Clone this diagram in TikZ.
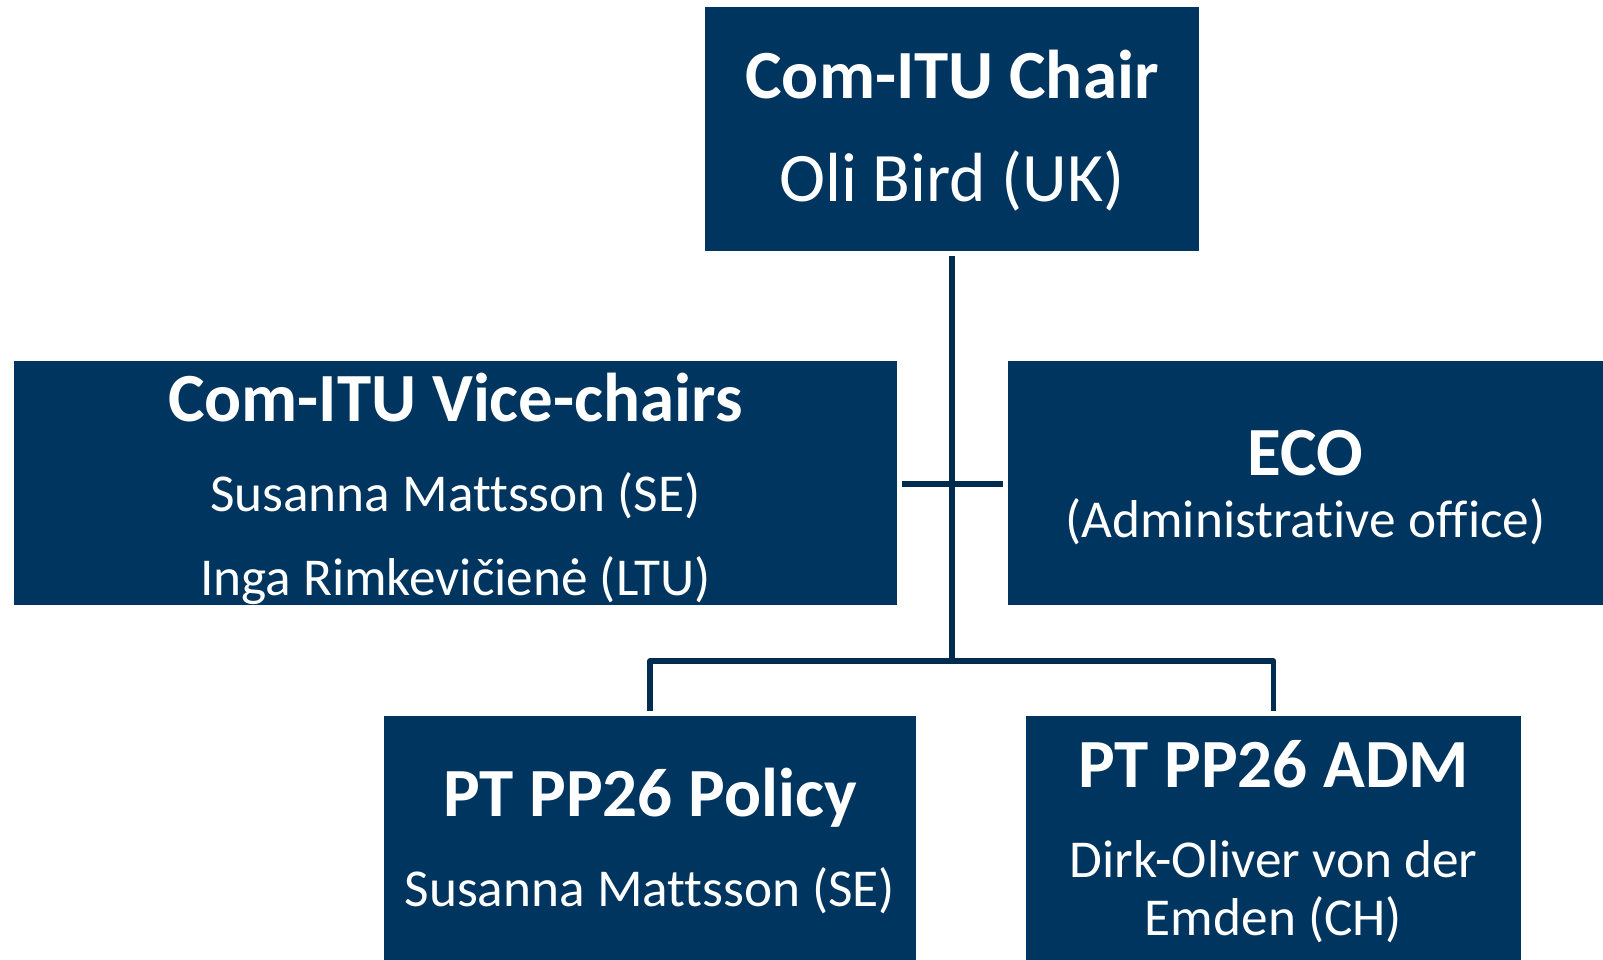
\documentclass[tikz,border=0pt]{standalone}
\usepackage{fontspec}
\setmainfont{Carlito}[Ligatures={NoCommon}]
\definecolor{navy}{RGB}{0,53,95}
\definecolor{linenavy}{RGB}{0,44,80}
\begin{document}
\begin{tikzpicture}[x=1pt,y=-1pt,
  box/.style={rectangle,fill=navy,draw=none,inner sep=0pt,outer sep=0pt},
  ttl/.style={anchor=base,inner sep=0pt,text=white,font=\fontsize{69}{80}\selectfont\bfseries},
  nm/.style={anchor=base,inner sep=0pt,text=white,font=\fontsize{53.3}{64}\selectfont},
  nmbig/.style={anchor=base,inner sep=0pt,text=white,font=\fontsize{69.5}{80}\selectfont},
  conn/.style={draw=linenavy,line width=5.5pt,line join=round,line cap=butt}]
\clip (0,0) rectangle (1603,960);
\fill[white] (0,0) rectangle (1603,960);
% boxes
\node[box,minimum width=494pt,minimum height=244pt] (top) at (952,129) {};
\node[box,minimum width=883pt,minimum height=244pt] (vice) at (455.5,483) {};
\node[box,minimum width=595pt,minimum height=244pt] (eco) at (1305.5,483) {};
\node[box,minimum width=532pt,minimum height=264pt] (policy) at (650,848) {};
\node[box,minimum width=495pt,minimum height=264pt] (adm) at (1273.5,848) {};
% texts
\node[ttl] (t1) at (952,99) {Com-ITU Chair};
\node[nmbig] (t2) at (952,202) {Oli Bird (UK)};
\node[ttl] (v1) at (455.5,421) {Com-ITU Vice-chairs};
\node[nm] (v2) at (455.5,511) {Susanna Mattsson (SE)};
\node[nm] (v3) at (455.5,595) {Inga Rimkevičienė (LTU)};
\node[ttl] (e1) at (1305.5,475) {ECO};
\node[nm] (e2) at (1305.5,537) {(Administrative office)};
\node[ttl] (p1) at (650,816) {PT PP26 Policy};
\node[nm] (p2) at (650,906) {Susanna Mattsson (SE)};
\node[ttl] (a1) at (1273.5,787) {PT PP26 ADM};
\node[nm] (a2) at (1273.5,877) {Dirk-Oliver von der};
\node[nm] (a3) at (1273.5,935) {Emden (CH)};
% connectors
\coordinate (hub) at (top.south |- 0,661);
\coordinate (cross) at (top.south |- 0,484);
\draw[conn] ([yshift=-5pt]top.south) -- (hub);
\draw[conn] ([xshift=5pt]vice.east |- cross) -- ([xshift=-5pt]eco.west |- cross);
\draw[conn] ([yshift=5pt]policy.north) -- (policy.north |- hub) -- (adm.north |- hub) -- ([yshift=5pt]adm.north);
\end{tikzpicture}
\end{document}
